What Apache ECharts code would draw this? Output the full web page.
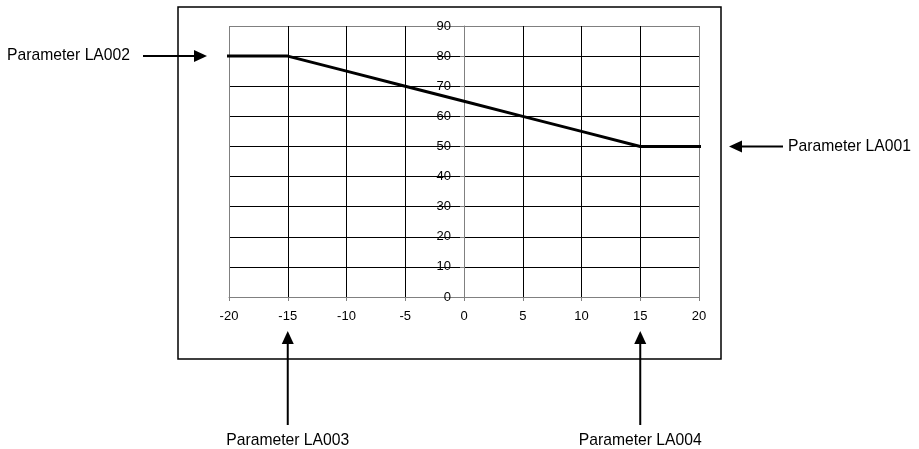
<!DOCTYPE html>
<html>
<head>
<meta charset="utf-8">
<script src="https://cdn.jsdelivr.net/npm/echarts@6/dist/echarts.min.js"></script>
<style>
html,body{margin:0;padding:0;background:#fff;}
#chart{width:919px;height:449px;}
</style>
</head>
<body>
<div id="chart"></div>
<script>
// Curve data (x = outdoor temperature, y = setpoint)
const lineX = [-20.7, -15, -10, -5, 0, 5, 10, 15, 20.7];
const lineY = [80, 80, 75, 70, 65, 60, 55, 50, 50];
// Axis ranges / ticks
const xMin = -20, xMax = 20, xStep = 5;
const yMin = 0, yMax = 90, yStep = 10;
// Parameter annotations
const paramNames = ['Parameter LA001', 'Parameter LA002', 'Parameter LA003', 'Parameter LA004'];
const paramLA001 = 50;   // y value (high end x)
const paramLA002 = 80;   // y value (low end x)
const paramLA003 = -15;  // x value
const paramLA004 = 15;   // x value

const GRAY = '#808080';
const FONT = 'Liberation Sans, Arial, sans-serif';
const GRID_LEFT = 229;

const chart = echarts.init(document.getElementById('chart'), null, {renderer: 'canvas'});

const xColors = [];
for (let v = xMin; v <= xMax; v += xStep) {
  xColors.push((v === xMin || v === xMax || v === 0) ? GRAY : '#000');
}
const yColors = [];
for (let v = yMin; v <= yMax; v += yStep) {
  yColors.push((v === yMin || v === yMax) ? GRAY : '#000');
}

const option = {
  animation: false,
  backgroundColor: '#fff',
  grid: {left: GRID_LEFT, right: 220, top: 26, bottom: 152, containLabel: false},
  xAxis: {
    type: 'value', min: xMin, max: xMax, interval: xStep,
    axisLine: {show: true, onZero: true, lineStyle: {color: GRAY, width: 1}},
    axisTick: {show: true, length: 4, lineStyle: {color: GRAY}},
    axisLabel: {color: '#000', fontSize: 13, fontFamily: FONT, margin: 13, showMinLabel: true, showMaxLabel: true},
    splitLine: {show: true, lineStyle: {color: xColors, width: 1}}
  },
  yAxis: {
    type: 'value', min: yMin, max: yMax, interval: yStep,
    axisLine: {show: true, onZero: false, lineStyle: {color: GRAY, width: 1}},
    axisTick: {show: true, length: 4, lineStyle: {color: GRAY}},
    axisLabel: {color: '#000', fontSize: 13, fontFamily: FONT, margin: 13, showMinLabel: true, showMaxLabel: true},
    splitLine: {show: true, lineStyle: {color: yColors, width: 1}}
  },
  series: [{
    type: 'line',
    data: lineX.map((x, i) => [x, lineY[i]]),
    symbol: 'none',
    clip: false,
    z: 10,
    lineStyle: {color: '#000', width: 3}
  }]
};
chart.setOption(option);

// place the y axis on x = 0
const xZero = chart.convertToPixel({gridIndex: 0}, [0, 0])[0];
chart.setOption({yAxis: {offset: -(xZero - GRID_LEFT)}});

function arrowH(x1, x2, y) { // from x1 to tip x2
  const dir = x2 > x1 ? 1 : -1;
  const hl = 13, hw = 6;
  return [
    {type: 'line', shape: {x1: x1, y1: y, x2: x2 - dir * hl, y2: y}, style: {stroke: '#000', lineWidth: 2}},
    {type: 'polygon', shape: {points: [[x2, y], [x2 - dir * hl, y - hw], [x2 - dir * hl, y + hw]]}, style: {fill: '#000'}}
  ];
}
function arrowV(x, y1, y2) { // from y1 (bottom) to tip y2
  const hl = 13, hw = 6;
  return [
    {type: 'line', shape: {x1: x, y1: y1, x2: x, y2: y2 + hl}, style: {stroke: '#000', lineWidth: 2}},
    {type: 'polygon', shape: {points: [[x, y2], [x - hw, y2 + hl], [x + hw, y2 + hl]]}, style: {fill: '#000'}}
  ];
}
function label(text, x, y, align) {
  return {type: 'text', x: x, y: y, style: {text: text, fill: '#000', font: '15.7px ' + FONT, align: align, verticalAlign: 'middle'}};
}

const y1 = chart.convertToPixel({gridIndex: 0}, [0, paramLA001])[1];
const y2 = chart.convertToPixel({gridIndex: 0}, [0, paramLA002])[1];
const x3 = chart.convertToPixel({gridIndex: 0}, [paramLA003, 0])[0];
const x4 = chart.convertToPixel({gridIndex: 0}, [paramLA004, 0])[0];

const graphics = [
  {type: 'rect', shape: {x: 178, y: 7, width: 543, height: 352}, style: {fill: 'none', stroke: '#000', lineWidth: 1.5}, z: 0}
];
graphics.push(...arrowH(143, 207, y2));
graphics.push(label(paramNames[1], 130, y2, 'right'));
graphics.push(...arrowH(783, 729, y1));
graphics.push(label(paramNames[0], 788, y1, 'left'));
graphics.push(...arrowV(x3, 425, 331));
graphics.push(label(paramNames[2], x3, 441, 'center'));
graphics.push(...arrowV(x4, 425, 331));
graphics.push(label(paramNames[3], x4, 441, 'center'));

chart.setOption({graphic: graphics});
</script>
</body>
</html>
